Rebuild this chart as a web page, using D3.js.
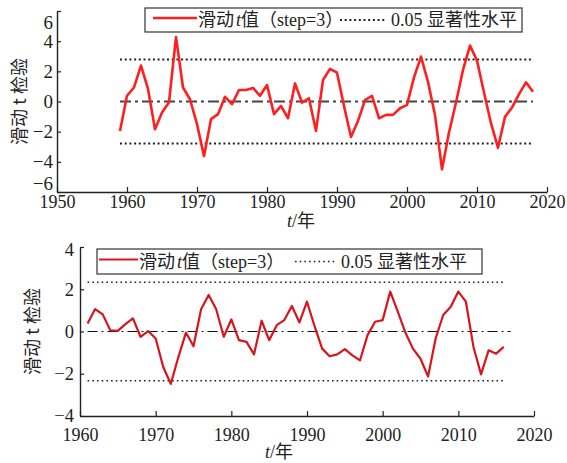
<!DOCTYPE html>
<html>
<head>
<meta charset="utf-8">
<script src="https://cdn.jsdelivr.net/npm/d3@7"></script>
<style>
  html, body { margin: 0; padding: 0; background: #fff; }
  svg { display: block; }
</style>
</head>
<body>
<svg id="chart" width="567" height="463"></svg>
<script>
// Moving t-test statistic (step = 3), first series 1959–2018
const yearsA = d3.range(1959, 2019);
const tA = [
  -1.95, 0.38, 0.93, 2.38, 0.83, -1.84, -0.73, -0.05, 4.27, 0.93,
  0.15, -1.5, -3.62, -1.17, -0.84, 0.31, -0.18, 0.76, 0.76, 0.9,
  0.38, 1.09, -0.84, -0.29, -1.11, 1.2, -0.07, 0.2, -1.95, 1.43,
  2.16, 1.91, -0.3, -2.35, -1.29, 0.09, 0.38, -1.11, -0.89, -0.89,
  -0.45, -0.22, 1.6, 2.98, 1.3, -0.9, -4.5, -2.06, -0.07, 2.09,
  3.71, 2.71, 0.6, -1.44, -3.07, -1.02, -0.4, 0.49, 1.27, 0.65
];
const critA = 2.78;
const xTicksA = [1950, 1960, 1970, 1980, 1990, 2000, 2010, 2020];
const yTicksA = [-6, -4, -2, 0, 2, 4, 6];

// Second series 1961–2016
const yearsB = d3.range(1961, 2017);
const tB = [
  0.38, 1.06, 0.81, 0.06, 0.03, 0.35, 0.62, -0.25, 0.02, -0.33,
  -1.68, -2.48, -1.21, -0.05, -0.7, 1.05, 1.73, 1.05, -0.25, 0.57,
  -0.41, -0.49, -1.08, 0.51, -0.41, 0.3, 0.54, 1.21, 0.43, 1.41,
  0.25, -0.81, -1.17, -1.08, -0.83, -1.13, -1.37, -0.17, 0.46, 0.54,
  1.89, 0.94, -0.05, -0.81, -1.29, -2.13, -0.33, 0.78, 1.17, 1.89,
  1.41, -0.73, -2.03, -0.89, -1.05, -0.73
];
const critB = 2.33;
const xTicksB = [1960, 1970, 1980, 1990, 2000, 2010, 2020];
const yTicksB = [-4, -2, 0, 2, 4];

// legend pieces: [text, kind] where kind picks the typeface
const legendLineLabel = [["滑动", "cjk"], ["t", "it"], ["值（", "cjk"], ["step=3", "lat"], ["）", "cjk"]];
const legendDotLabel = [["0.05 ", "lat"], ["显著性水平", "cjk"]];
const yAxisLabel = "滑动 t 检验";

const SERIF = '"Liberation Serif", "Times New Roman", serif';
const CJK = '"Noto Sans CJK SC", sans-serif';

const svg = d3.select("#chart");
const fmt = d => (d < 0 ? "\u2212" + Math.abs(d) : String(d));

function addRuns(textSel, runs) {
  runs.forEach(([s, kind]) => {
    const t = textSel.append("tspan").text(s)
      .style("font-family", kind === "cjk" ? CJK : SERIF);
    if (kind === "it") t.style("font-style", "italic").attr("dx", 2);
  });
}

function panel(cfg) {
  const x = d3.scaleLinear().domain(cfg.xDomain).range([cfg.left, cfg.right]);
  const y = d3.scaleLinear().domain(cfg.yDomain).range([cfg.bottom, cfg.top]);
  const g = svg.append("g");

  // axes: left and bottom only, ticks pointing inward
  const ax = g.append("g").attr("transform", `translate(0,${cfg.bottom})`)
    .call(d3.axisBottom(x).tickValues(cfg.xTicks).tickFormat(d3.format("d"))
      .tickSizeInner(-5).tickSizeOuter(0).tickPadding(cfg.xPad));
  const ay = g.append("g").attr("transform", `translate(${cfg.left},0)`)
    .call(d3.axisLeft(y).tickValues(cfg.yTicks).tickFormat(fmt)
      .tickSizeInner(-4).tickSizeOuter(0).tickPadding(cfg.yPad));
  [ax, ay].forEach(a => {
    a.select(".domain").attr("stroke", "#222").attr("stroke-width", 1.4);
    a.selectAll(".tick line").attr("stroke", "#222").attr("stroke-width", 1.2);
    a.selectAll("text").attr("fill", "#222").style("font-family", SERIF);
  });
  ax.selectAll(".tick text").style("font-size", cfg.xFont + "px").attr("dy", "0.71em");
  ay.selectAll(".tick text").style("font-size", cfg.yFont + "px")
    // end labels of the y axis sit just inside the axis span
    .attr("dy", d => d === cfg.yDomain[1] ? cfg.endShift[0]
      : d === cfg.yDomain[0] ? cfg.endShift[1] : "0.32em");

  const x0 = x(cfg.years[0]), x1 = x(cfg.years[cfg.years.length - 1]);

  // significance thresholds
  [cfg.crit, -cfg.crit].forEach(c => {
    g.append("line").attr("x1", x0).attr("x2", x1).attr("y1", y(c)).attr("y2", y(c))
      .attr("stroke", "#222").attr("stroke-width", cfg.dotW)
      .attr("stroke-dasharray", cfg.dotDash);
  });
  // zero reference
  g.append("line").attr("x1", x0).attr("x2", x1 + cfg.zeroExtend).attr("y1", y(0)).attr("y2", y(0))
    .attr("stroke", cfg.zeroColor).attr("stroke-width", cfg.zeroW)
    .attr("stroke-dasharray", cfg.zeroDash);

  // statistic series
  const line = d3.line().x((d, i) => x(cfg.years[i])).y(d => y(d));
  g.append("path").datum(cfg.values).attr("d", line)
    .attr("fill", "none").attr("stroke", cfg.color).attr("stroke-width", cfg.lineW)
    .attr("stroke-linejoin", "round");

  // legend
  const L = cfg.legend;
  g.append("rect").attr("x", L.x).attr("y", L.y).attr("width", L.w).attr("height", L.h)
    .attr("fill", "#fff").attr("stroke", "#333").attr("stroke-width", 1.2);
  const my = L.y + L.h / 2;
  g.append("line").attr("x1", L.lineX[0]).attr("x2", L.lineX[1]).attr("y1", my - 2).attr("y2", my - 2)
    .attr("stroke", cfg.color).attr("stroke-width", cfg.lineW);
  const t1 = g.append("text").attr("x", L.lineX[1] + 1).attr("y", my + 6)
    .attr("fill", "#222").style("font-size", L.font + "px");
  addRuns(t1, legendLineLabel);
  g.append("line").attr("x1", L.dotX[0]).attr("x2", L.dotX[1]).attr("y1", my).attr("y2", my)
    .attr("stroke", "#222").attr("stroke-width", cfg.dotW).attr("stroke-dasharray", cfg.dotDash);
  const t2 = g.append("text").attr("x", L.dotX[1] + 6).attr("y", my + 6)
    .attr("fill", "#222").style("font-size", L.font + "px");
  addRuns(t2, legendDotLabel);

  // axis titles
  g.append("text")
    .attr("transform", `translate(${cfg.yLabelX},${(cfg.top + cfg.bottom) / 2}) rotate(-90)`)
    .attr("text-anchor", "middle").attr("fill", "#222")
    .style("font-family", CJK).style("font-size", cfg.titleFont + "px").text(yAxisLabel);
  const xt = g.append("text").attr("x", cfg.xTitle[0]).attr("y", cfg.xTitle[1])
    .attr("text-anchor", "middle").attr("fill", "#222").style("font-size", cfg.titleFont + "px");
  addRuns(xt, [["t", "itn"], ["/", "lat"], ["年", "cjk"]]);
  xt.select("tspan").style("font-style", "italic");
}

panel({
  years: yearsA, values: tA, crit: critA,
  xDomain: [1950, 2020], yDomain: [-6, 6], xTicks: xTicksA, yTicks: yTicksA,
  left: 57, right: 547, top: 11, bottom: 192,
  xFont: 18, yFont: 19, xPad: 3, yPad: 4, endShift: ["0.9em", "-0.15em"],
  color: "#ff1f1f", lineW: 2.6,
  dotW: 2, dotDash: "2,2.7",
  zeroColor: "#444", zeroW: 2, zeroDash: "11,4,3,4", zeroExtend: 0,
  legend: { x: 145, y: 8, w: 377, h: 24, lineX: [153, 197], dotX: [340, 385], font: 18 },
  yLabelX: 26, titleFont: 18, xTitle: [301, 227]
});

panel({
  years: yearsB, values: tB, crit: critB,
  xDomain: [1960, 2020], yDomain: [-4, 4], xTicks: xTicksB, yTicks: yTicksB,
  left: 80, right: 534, top: 247, bottom: 416,
  xFont: 18, yFont: 18.5, xPad: 12, yPad: 6, endShift: ["0.48em", "0.3em"],
  color: "#d8141c", lineW: 2.2,
  dotW: 1.6, dotDash: "1.6,3.1",
  zeroColor: "#111", zeroW: 1.2, zeroDash: "10,4,2,4", zeroExtend: 7,
  legend: { x: 97, y: 249, w: 385, h: 25, lineX: [99, 138], dotX: [295, 335], font: 18 },
  yLabelX: 39, titleFont: 18, xTitle: [279, 458]
});
</script>
</body>
</html>
